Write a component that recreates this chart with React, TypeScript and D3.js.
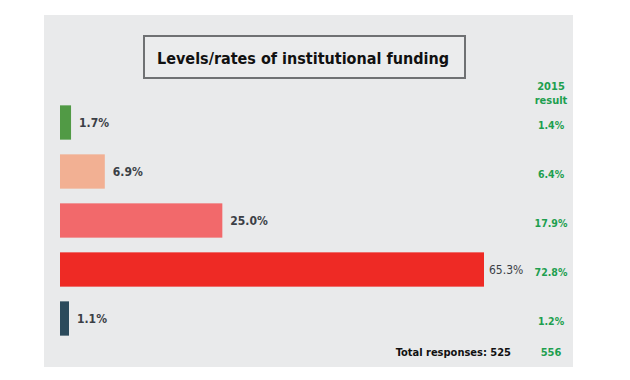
import React from "react";
import * as d3 from "d3";

const categories = ["A", "B", "C", "D", "E"];
const values = [1.7, 6.9, 25.0, 65.3, 1.1];
const prevValues = [1.4, 6.4, 17.9, 72.8, 1.2];
const colors = ["#519a45", "#f2b093", "#f2696b", "#ee2a25", "#2b4a5b"];
const title = "Levels/rates of institutional funding";
const totalLabel = "Total responses: 525";
const prevTotal = "556";

const FONT = "'DejaVu Sans Condensed', 'Roboto', sans-serif";

export default function App() {
  const x = d3.scaleLinear().domain([0, 65.3]).range([60, 484]);
  const y = d3.scaleBand<string>().domain(categories).range([98, 343]).paddingInner(0.3).paddingOuter(0.15);
  const green = "#1e9f4f";
  const prevX = 551;
  return (
    <svg width={630} height={380} style={{ position: "absolute", left: 0, top: 0 }} fontFamily={FONT}>
      <rect x={0} y={0} width={630} height={380} fill="#ffffff" />
      <rect x={44} y={15} width={529} height={352} fill="#e9eaeb" />
      <rect x={144} y={36} width={321} height={42} fill="#ebeced" stroke="#6f7173" strokeWidth={2} />
      <text x={303} y={58} textAnchor="middle" dominantBaseline="central" fontWeight="bold" fontSize={16} fill="#111">
        {title}
      </text>
      <text x={prevX} y={86} textAnchor="middle" dominantBaseline="central" fontWeight="bold" fontSize={11} fill={green}>2015</text>
      <text x={prevX} y={100} textAnchor="middle" dominantBaseline="central" fontWeight="bold" fontSize={11} fill={green}>result</text>
      {categories.map((c, i) => {
        const yy = y(c)!;
        const h = y.bandwidth();
        const w = Math.max(x(values[i]) - x(0), 9);
        const cy = yy + h / 2;
        return (
          <g key={c}>
            <rect x={x(0)} y={yy} width={w} height={h} fill={colors[i]} />
            <text x={x(0) + w + (i === 3 ? 5 : 8)} y={cy} dominantBaseline="central" fontSize={12} fontWeight={i === 3 ? "normal" : "bold"} fill="#3b3f46">
              {values[i].toFixed(1)}%
            </text>
            <text x={prevX} y={cy + 2} textAnchor="middle" dominantBaseline="central" fontSize={10.5} fontWeight="bold" fill={green}>
              {prevValues[i].toFixed(1)}%
            </text>
          </g>
        );
      })}
      <text x={511} y={352} textAnchor="end" dominantBaseline="central" fontSize={11} fontWeight="bold" fill="#111">{totalLabel}</text>
      <text x={prevX} y={352} textAnchor="middle" dominantBaseline="central" fontSize={11} fontWeight="bold" fill={green}>{prevTotal}</text>
    </svg>
  );
}
